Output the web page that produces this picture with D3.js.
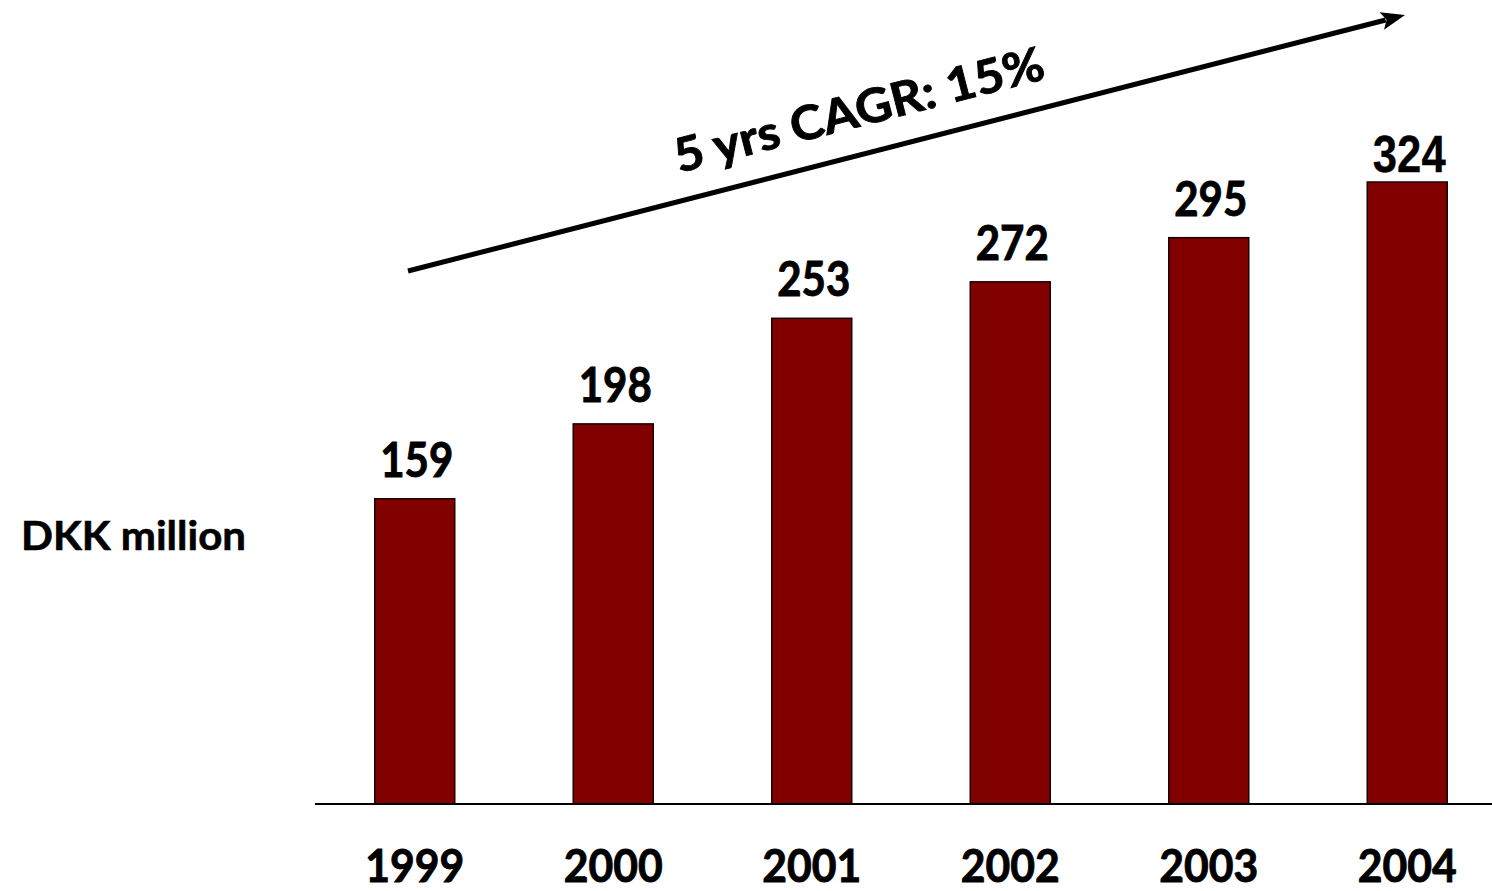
<!DOCTYPE html>
<html>
<head>
<meta charset="utf-8">
<script src="https://cdn.jsdelivr.net/npm/d3@7"></script>
<style>
  html, body { margin: 0; padding: 0; background: #fff; }
  svg { display: block; }
  text { font-family: "Lato", "Open Sans", sans-serif; font-weight: 700; fill: #000; stroke: #000; stroke-width: 0.9px; }
</style>
</head>
<body>
<svg id="chart" width="1492" height="891"></svg>
<script>
// Revenue by year, DKK million
const years = ["1999", "2000", "2001", "2002", "2003", "2004"];
const revenue = [159, 198, 253, 272, 295, 324];
const unitLabel = "DKK million";
const growthLabel = "5 yrs CAGR: 15%";

const svg = d3.select("#chart");

const x = d3.scaleBand()
  .domain(years)
  .range([315.5, 1506.5])
  .paddingInner(0.597)
  .paddingOuter(0.2985);

const y = d3.scaleLinear()
  .domain([0, d3.max(revenue)])
  .range([804, 182]);

const data = years.map((yr, i) => ({ year: yr, value: revenue[i] }));

// bars
svg.append("g")
  .selectAll("rect")
  .data(data)
  .join("rect")
  .attr("x", d => x(d.year))
  .attr("y", d => y(d.value))
  .attr("width", x.bandwidth())
  .attr("height", d => y(0) - y(d.value))
  .attr("fill", "#800000")
  .attr("stroke", "#1a0000")
  .attr("stroke-width", 1.5);

// baseline
svg.append("line")
  .attr("x1", 315).attr("x2", 1492)
  .attr("y1", y(0)).attr("y2", y(0))
  .attr("stroke", "#000")
  .attr("stroke-width", 2);

// year labels under the axis
const xAxis = d3.axisBottom(x).tickSize(0).tickPadding(0);
const gx = svg.append("g").attr("transform", `translate(0,${y(0)})`).call(xAxis);
gx.select(".domain").remove();
gx.selectAll("text")
  .attr("dy", null)
  .attr("y", 78)
  .style("font-family", '"Lato", sans-serif')
  .style("font-weight", 700)
  .style("font-size", "46px")
  .attr("fill", "#000")
  .attr("textLength", 99)
  .attr("lengthAdjust", "spacingAndGlyphs");

// value labels above bars
const last = data.length - 1;
svg.append("g")
  .selectAll("text")
  .data(data)
  .join("text")
  .attr("x", d => x(d.year) + x.bandwidth() / 2 + 2)
  .attr("y", (d, i) => y(d.value) - (i === last ? 10 : 22))
  .attr("text-anchor", "middle")
  .style("font-size", (d, i) => i === last ? "51px" : "47px")
  .style("font-family", (d, i) => i === last ? '"Liberation Sans", Arial, sans-serif' : '"Lato", sans-serif')
  .style("stroke-width", (d, i) => i === last ? "0.3px" : null)
  .attr("textLength", 73)
  .attr("lengthAdjust", "spacingAndGlyphs")
  .text(d => d.value);

// unit label
svg.append("text")
  .attr("x", 21)
  .attr("y", 550)
  .style("font-size", "40px")
  .style("stroke-width", "0.6px")
  .attr("textLength", 225)
  .attr("lengthAdjust", "spacingAndGlyphs")
  .text(unitLabel);

// growth arrow: shaft plus a filled head drawn in the arrow's own frame
const a0 = [408, 271], a1 = [1405, 15];
const angle = Math.atan2(a1[1] - a0[1], a1[0] - a0[0]) * 180 / Math.PI;
const len = Math.hypot(a1[0] - a0[0], a1[1] - a0[1]);
const headLen = 24, headHalf = 9;

const arrow = svg.append("g")
  .attr("transform", `translate(${a0[0]},${a0[1]}) rotate(${angle})`);
arrow.append("line")
  .attr("x1", 0).attr("y1", 0)
  .attr("x2", len - headLen + 4).attr("y2", 0)
  .attr("stroke", "#000")
  .attr("stroke-width", 5);
arrow.append("path")
  .attr("d", d3.line()([
    [len, 0], [len - headLen, -headHalf], [len - headLen + 5, 0], [len - headLen, headHalf]
  ]) + "Z")
  .attr("fill", "#000");

svg.append("text")
  .attr("transform", `translate(679,173) rotate(${angle})`)
  .style("font-size", "47px")
  .attr("textLength", 380)
  .attr("lengthAdjust", "spacingAndGlyphs")
  .text(growthLabel);
</script>
</body>
</html>
